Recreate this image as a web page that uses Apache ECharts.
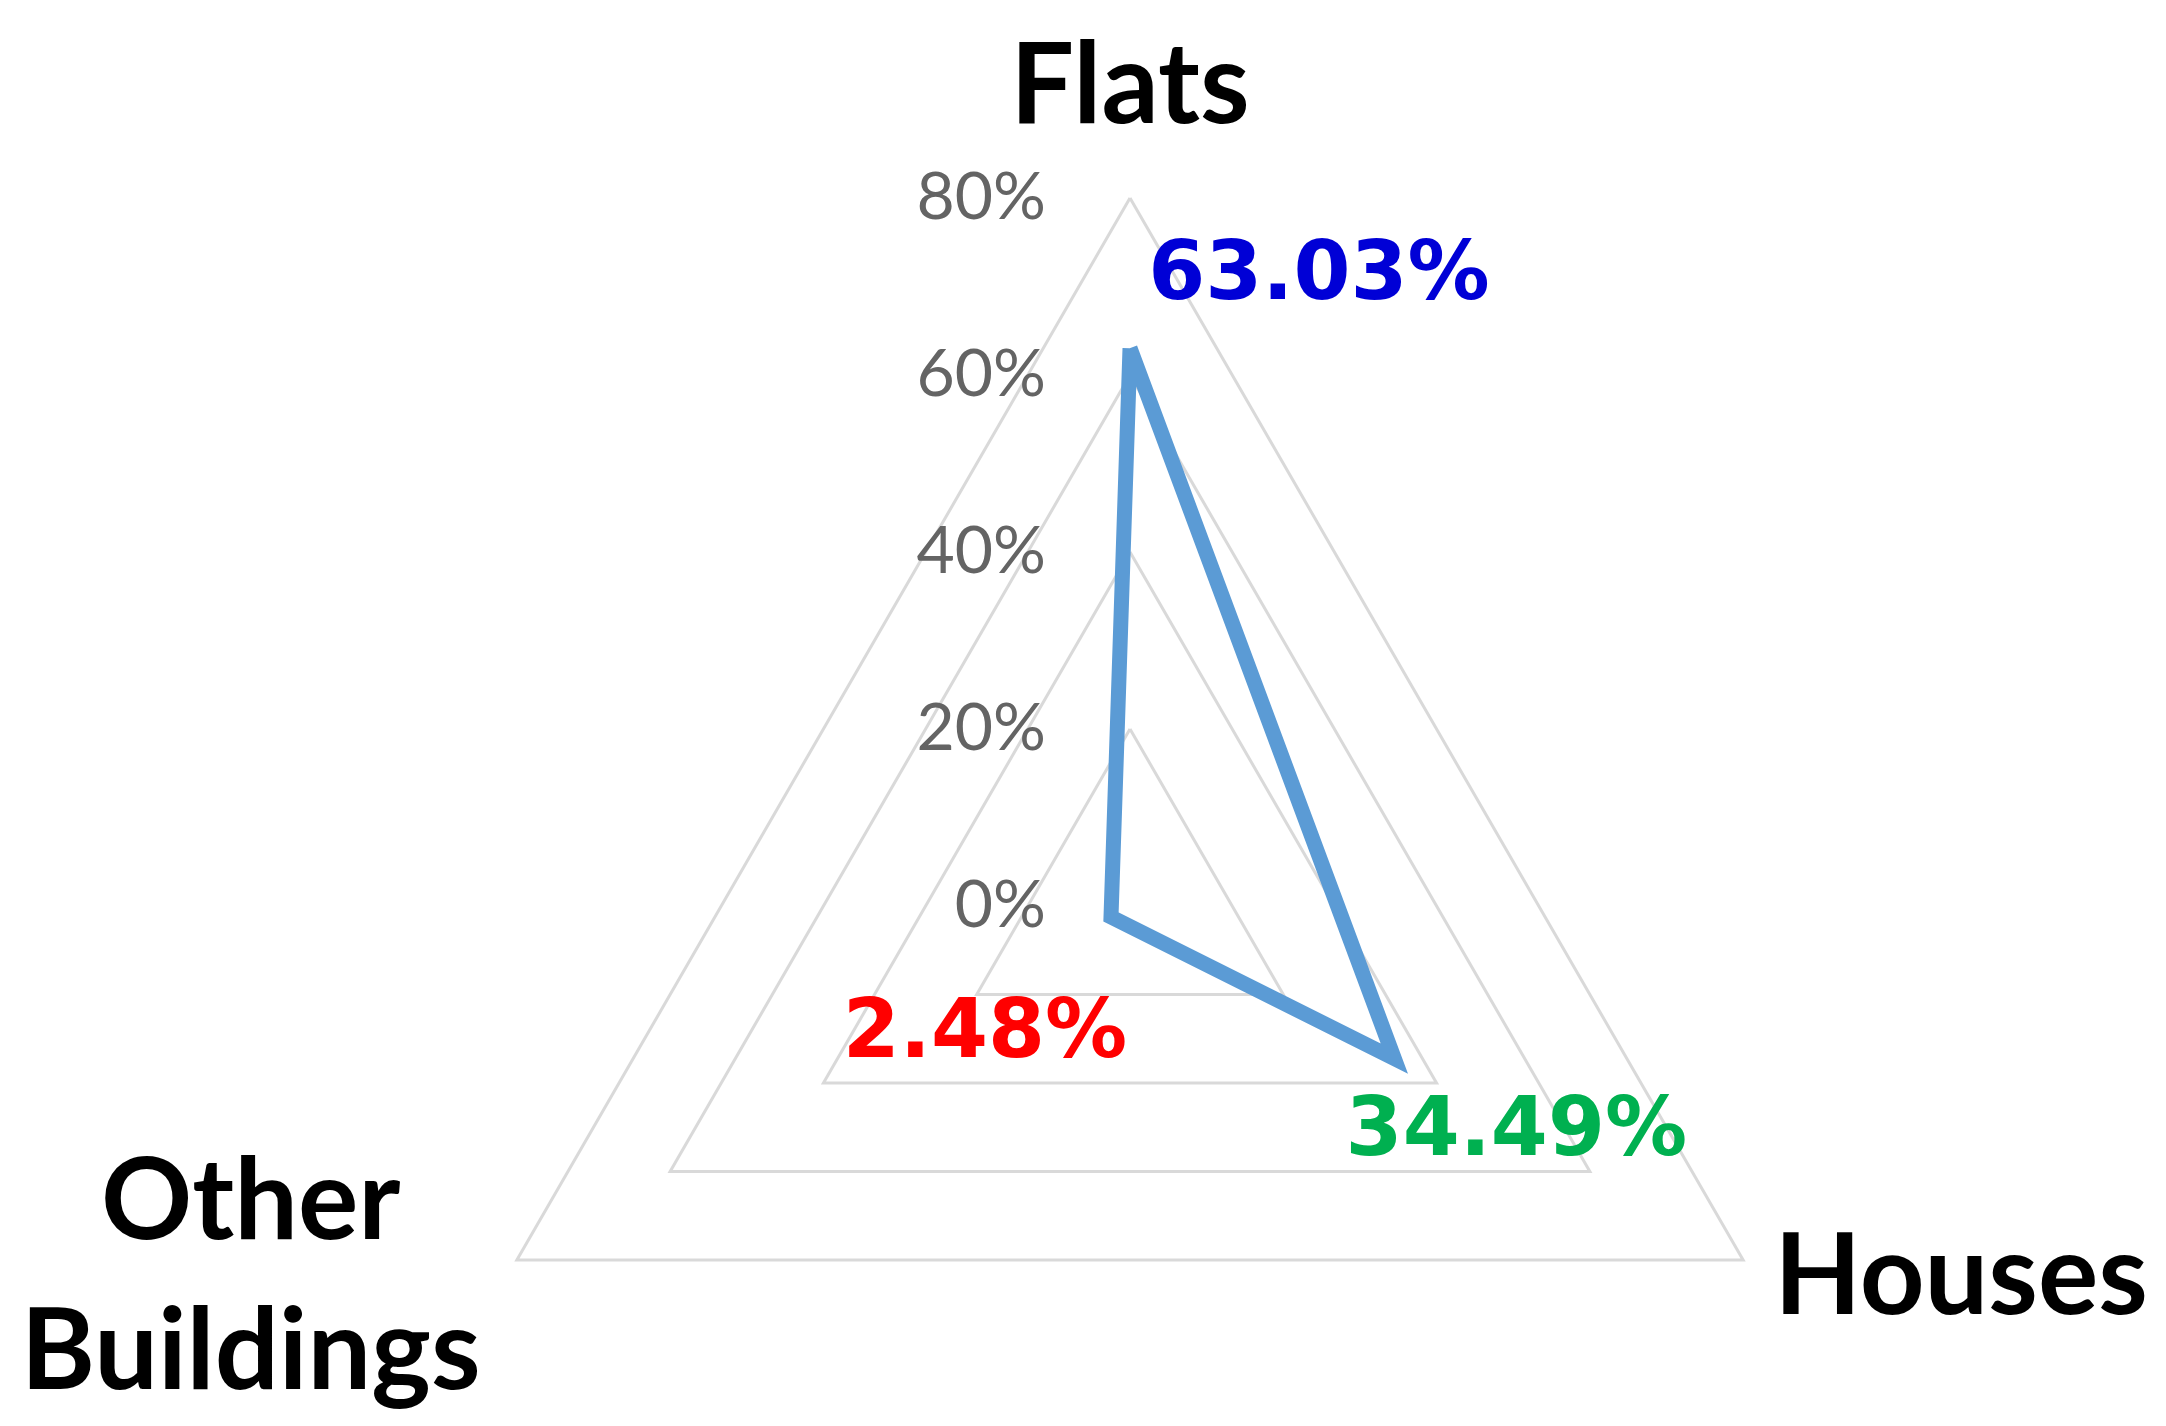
<!DOCTYPE html>
<html>
<head>
<meta charset="utf-8">
<script src="https://cdn.jsdelivr.net/npm/echarts@6/dist/echarts.min.js"></script>
<style>
  html, body { margin: 0; padding: 0; background: #fff; }
  #chart { width: 2166px; height: 1426px; }
</style>
</head>
<body>
<div id="chart"></div>
<script>
// 建筑类型占比雷达图

// indicator order follows echarts: top, then counter-clockwise
const categories = ['Flats', 'Other\nBuildings', 'Houses'];
const shares = [63.03, 2.48, 34.49];
const axisMax = 80;
const tickStep = 20;

// per-label colour and nudge (not data)
const labelStyle = {
    'Flats': { color: '#0000D6', dx: 189, dy: -70 },
    'Other\nBuildings': { color: '#FF0000', dx: -126, dy: 119 },
    'Houses': { color: '#00B050', dx: 122, dy: 75 }
};

function fmtPct(v) {
    return v.toFixed(2) + '%';
}

const chart = echarts.init(document.getElementById('chart'));

const nameFont = { fontFamily: 'Lato', fontWeight: 'bold', fontSize: 113, lineHeight: 150, color: '#000000' };
const valFont = { fontFamily: 'DejaVu Sans', fontWeight: 'bold', fontSize: 82 };

const option = {
    backgroundColor: '#ffffff',
    animation: false,
    radar: {
        center: [1130, 906],
        radius: 708,
        startAngle: 90,
        shape: 'polygon',
        splitNumber: axisMax / tickStep,
        nameGap: 36,
        axisName: Object.assign({}, nameFont, {
            rich: {
                c: Object.assign({ width: 470, align: 'center' }, nameFont)
            },
            formatter: function (name) {
                if (name.indexOf('\n') >= 0) {
                    return name.split('\n').map(s => '{c|' + s + '}').join('\n');
                }
                return name;
            }
        }),
        axisLine: { show: false },
        axisTick: { show: false },
        axisLabel: {
            show: true,
            color: '#646464',
            fontFamily: 'Lato',
            fontSize: 66,
            margin: 84,
            formatter: function (v) { return v + '%'; }
        },
        splitLine: {
            lineStyle: { color: '#D9D9D9', width: 3 }
        },
        splitArea: { show: false },
        indicator: categories.map((c, i) => {
            const ind = { name: c, min: 0, max: axisMax };
            if (i > 0) ind.axisLabel = { show: false };
            return ind;
        })
    },
    series: [{
        type: 'radar',
        symbol: 'circle',
        symbolSize: 1,
        itemStyle: { color: 'rgba(0,0,0,0)' },
        lineStyle: { color: '#5B9BD5', width: 15, join: 'miter' },
        label: Object.assign({
            show: true,
            position: 'inside',
            formatter: function (p) {
                const i = shares.indexOf(p.value);
                return '{k' + i + '|' + fmtPct(p.value) + '}';
            },
            rich: {
                k0: Object.assign({ color: labelStyle[categories[0]].color }, valFont),
                k1: Object.assign({ color: labelStyle[categories[1]].color }, valFont),
                k2: Object.assign({ color: labelStyle[categories[2]].color }, valFont)
            }
        }, valFont),
        labelLayout: function (params) {
            const t = params.text || '';
            for (let i = 0; i < shares.length; i++) {
                if (t.indexOf(fmtPct(shares[i])) >= 0) {
                    const s = labelStyle[categories[i]];
                    return { dx: s.dx, dy: s.dy };
                }
            }
            return {};
        },
        data: [{ value: shares, name: 'Share' }]
    }]
};

chart.setOption(option);
</script>
</body>
</html>
